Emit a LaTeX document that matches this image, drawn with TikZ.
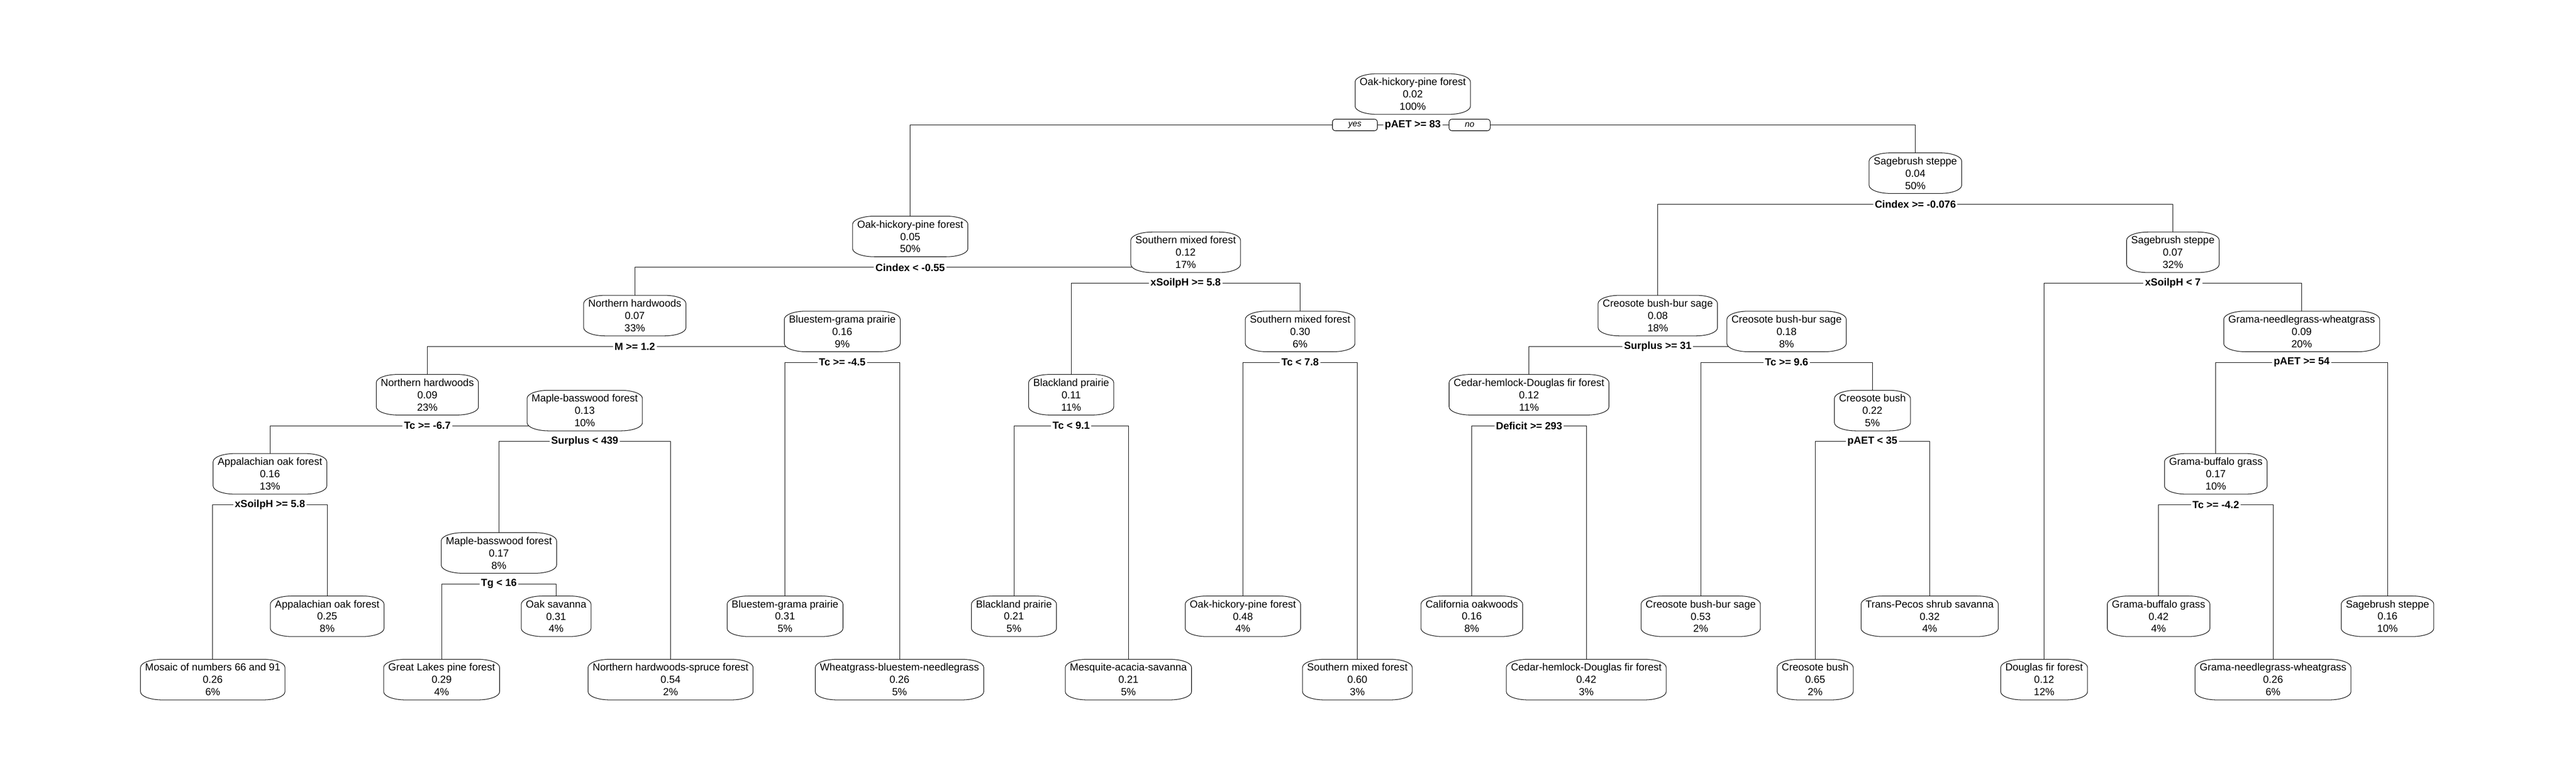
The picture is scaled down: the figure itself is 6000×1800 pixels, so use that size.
\documentclass[tikz,border=0pt]{standalone}
\usepackage{fontspec}
\setmainfont{Liberation Sans}
\usetikzlibrary{positioning,backgrounds}

\begin{document}
\begin{tikzpicture}[x=0.01cm,y=-0.01cm,
	box/.style={align=center,inner xsep=0.1cm,inner ysep=0pt,minimum height=0.93cm,font=\fontsize{6.8}{8.17}\selectfont},
	boxline/.style={draw,line width=0.35pt,fill=white},
	corner/.style={x radius=0.5cm,y radius=0.19cm},
	split/.style={fill=white,inner xsep=0.03cm,inner ysep=0.02cm,font=\fontsize{6.8}{8.17}\selectfont\bfseries},
	yesno/.style={draw,line width=0.35pt,fill=white,rounded corners=0.07cm,inner xsep=0.37cm,inner ysep=0pt,minimum height=0.27cm,font=\fontsize{5.6}{6.7}\selectfont\itshape},
	branch/.style={line width=0.3pt}]
				\node[box]	(0)	at (3290.6,219)	{Oak-hickory-pine forest\\0.02\\100\%};
				\node[split]	(s0)	at (3290.6,291)	{pAET >= 83};
				\node[yesno, left=0.13cm of s0]	(yes)	{yes};
				\node[yesno, right=0.15cm of s0]	(no)	{no};

				% left half
				\node[box]	(1)	at (2120.1,550.65)	{Oak-hickory-pine forest\\0.05\\50\%};
				\node[split]	(s1)	at (2120.1,622.65)	{Cindex < -0.55};
				\node[box]	(2)	at (1478.6,734.9)	{Northern hardwoods\\0.07\\33\%};
				\node[split]	(s2)	at (1478.6,806.9)	{M >= 1.2};
				\node[box]	(3)	at (995.4,919.15)	{Northern hardwoods\\0.09\\23\%};
				\node[split]	(s3)	at (995.4,991.15)	{Tc >= -6.7};
				\node[box]	(4)	at (628.8,1103.4)	{Appalachian oak forest\\0.16\\13\%};
				\node[split]	(s4)	at (628.8,1175.4)	{xSoilpH >= 5.8};
				\node[box]	(5)	at (495.5,1582.45)	{Mosaic of numbers 66 and 91\\0.26\\6\%};
				\node[box]	(6)	at (762.1,1435)	{Appalachian oak forest\\0.25\\8\%};
				\node[box]	(7)	at (1361.95,956)	{Maple-basswood forest\\0.13\\10\%};
				\node[split]	(s7)	at (1361.95,1028)	{Surplus < 439};
				\node[box]	(8)	at (1162,1287.65)	{Maple-basswood forest\\0.17\\8\%};
				\node[split]	(s8)	at (1162,1359.65)	{Tg < 16};
				\node[box]	(9)	at (1028.7,1582.45)	{Great Lakes pine forest\\0.29\\4\%};
				\node[box]	(10)	at (1295.3,1435)	{Oak savanna\\0.31\\4\%};
				\node[box]	(11)	at (1561.9,1582.45)	{Northern hardwoods-spruce forest\\0.54\\2\%};
				\node[box]	(12)	at (1961.8,771.75)	{Bluestem-grama prairie\\0.16\\9\%};
				\node[split]	(s12)	at (1961.8,843.75)	{Tc >= -4.5};
				\node[box]	(13)	at (1828.5,1435)	{Bluestem-grama prairie\\0.31\\5\%};
				\node[box]	(14)	at (2095.1,1582.45)	{Wheatgrass-bluestem-needlegrass\\0.26\\5\%};
				\node[box]	(15)	at (2761.6,587.5)	{Southern mixed forest\\0.12\\17\%};
				\node[split]	(s15)	at (2761.6,659.5)	{xSoilpH >= 5.8};
				\node[box]	(16)	at (2495,919.15)	{Blackland prairie\\0.11\\11\%};
				\node[split]	(s16)	at (2495,991.15)	{Tc < 9.1};
				\node[box]	(17)	at (2361.7,1435)	{Blackland prairie\\0.21\\5\%};
				\node[box]	(18)	at (2628.3,1582.45)	{Mesquite-acacia-savanna\\0.21\\5\%};
				\node[box]	(19)	at (3028.2,771.75)	{Southern mixed forest\\0.30\\6\%};
				\node[split]	(s19)	at (3028.2,843.75)	{Tc < 7.8};
				\node[box]	(20)	at (2894.9,1435)	{Oak-hickory-pine forest\\0.48\\4\%};
				\node[box]	(21)	at (3161.5,1582.45)	{Southern mixed forest\\0.60\\3\%};

				% right half
				\node[box]	(22)	at (4461.2,403.25)	{Sagebrush steppe\\0.04\\50\%};
				\node[split]	(s22)	at (4461.2,475.25)	{Cindex >= -0.076};
				\node[box]	(23)	at (3861.3,734.9)	{Creosote bush-bur sage\\0.08\\18\%};
				\node[split]	(s23)	at (3861.3,806.9)	{Surplus >= 31};
				\node[box]	(24)	at (3561.4,919.15)	{Cedar-hemlock-Douglas fir forest\\0.12\\11\%};
				\node[split]	(s24)	at (3561.4,991.15)	{Deficit >= 293};
				\node[box]	(25)	at (3428.1,1435)	{California oakwoods\\0.16\\8\%};
				\node[box]	(26)	at (3694.7,1582.45)	{Cedar-hemlock-Douglas fir forest\\0.42\\3\%};
				\node[box]	(27)	at (4161.25,771.75)	{Creosote bush-bur sage\\0.18\\8\%};
				\node[split]	(s27)	at (4161.25,843.75)	{Tc >= 9.6};
				\node[box]	(28)	at (3961.3,1435)	{Creosote bush-bur sage\\0.53\\2\%};
				\node[box]	(29)	at (4361.2,956)	{Creosote bush\\0.22\\5\%};
				\node[split]	(s29)	at (4361.2,1028)	{pAET < 35};
				\node[box]	(30)	at (4227.9,1582.45)	{Creosote bush\\0.65\\2\%};
				\node[box]	(31)	at (4494.5,1435)	{Trans-Pecos shrub savanna\\0.32\\4\%};
				\node[box]	(32)	at (5061,587.5)	{Sagebrush steppe\\0.07\\32\%};
				\node[split]	(s32)	at (5061,659.5)	{xSoilpH < 7};
				\node[box]	(33)	at (4761.1,1582.45)	{Douglas fir forest\\0.12\\12\%};
				\node[box]	(34)	at (5361,771.75)	{Grama-needlegrass-wheatgrass\\0.09\\20\%};
				\node[split]	(s34)	at (5361,843.75)	{pAET >= 54};
				\node[box]	(35)	at (5161,1103.4)	{Grama-buffalo grass\\0.17\\10\%};
				\node[split]	(s35)	at (5161,1175.4)	{Tc >= -4.2};
				\node[box]	(36)	at (5027.7,1435)	{Grama-buffalo grass\\0.42\\4\%};
				\node[box]	(37)	at (5294.3,1582.45)	{Grama-needlegrass-wheatgrass\\0.26\\6\%};
				\node[box]	(38)	at (5560.9,1435)	{Sagebrush steppe\\0.16\\10\%};

				\begin{scope}[on background layer]
				\fill[white] (0,0) rectangle (6000,1800);
				\path[draw,branch]
				(1) |- (s0) -| (22)
				(2) |- (s1) -| (15)
				(3) |- (s2) -| (12)
				(4) |- (s3) -| (7)
				(5) |- (s4) -| (6)
				(8) |- (s7) -| (11)
				(9) |- (s8) -| (10)
				(13) |- (s12) -| (14)
				(16) |- (s15) -| (19)
				(17) |- (s16) -| (18)
				(20) |- (s19) -| (21)
				(23) |- (s22) -| (32)
				(24) |- (s23) -| (27)
				(25) |- (s24) -| (26)
				(28) |- (s27) -| (29)
				(30) |- (s29) -| (31)
				(33) |- (s32) -| (34)
				(35) |- (s34) -| (38)
				(36) |- (s35) -| (37)
					;
				% boxes with wide rounded corners
				\foreach \n in {0,...,38}
					\path[boxline] ([xshift=0.5cm]\n.north west) -- ([xshift=-0.5cm]\n.north east)
					arc[start angle=90,end angle=0,corner] -- ([yshift=0.19cm]\n.south east)
					arc[start angle=0,end angle=-90,corner] -- ([xshift=0.5cm]\n.south west)
					arc[start angle=270,end angle=180,corner] -- ([yshift=-0.19cm]\n.north west)
					arc[start angle=180,end angle=90,corner] -- cycle;
				\end{scope}
\end{tikzpicture}
\end{document}
